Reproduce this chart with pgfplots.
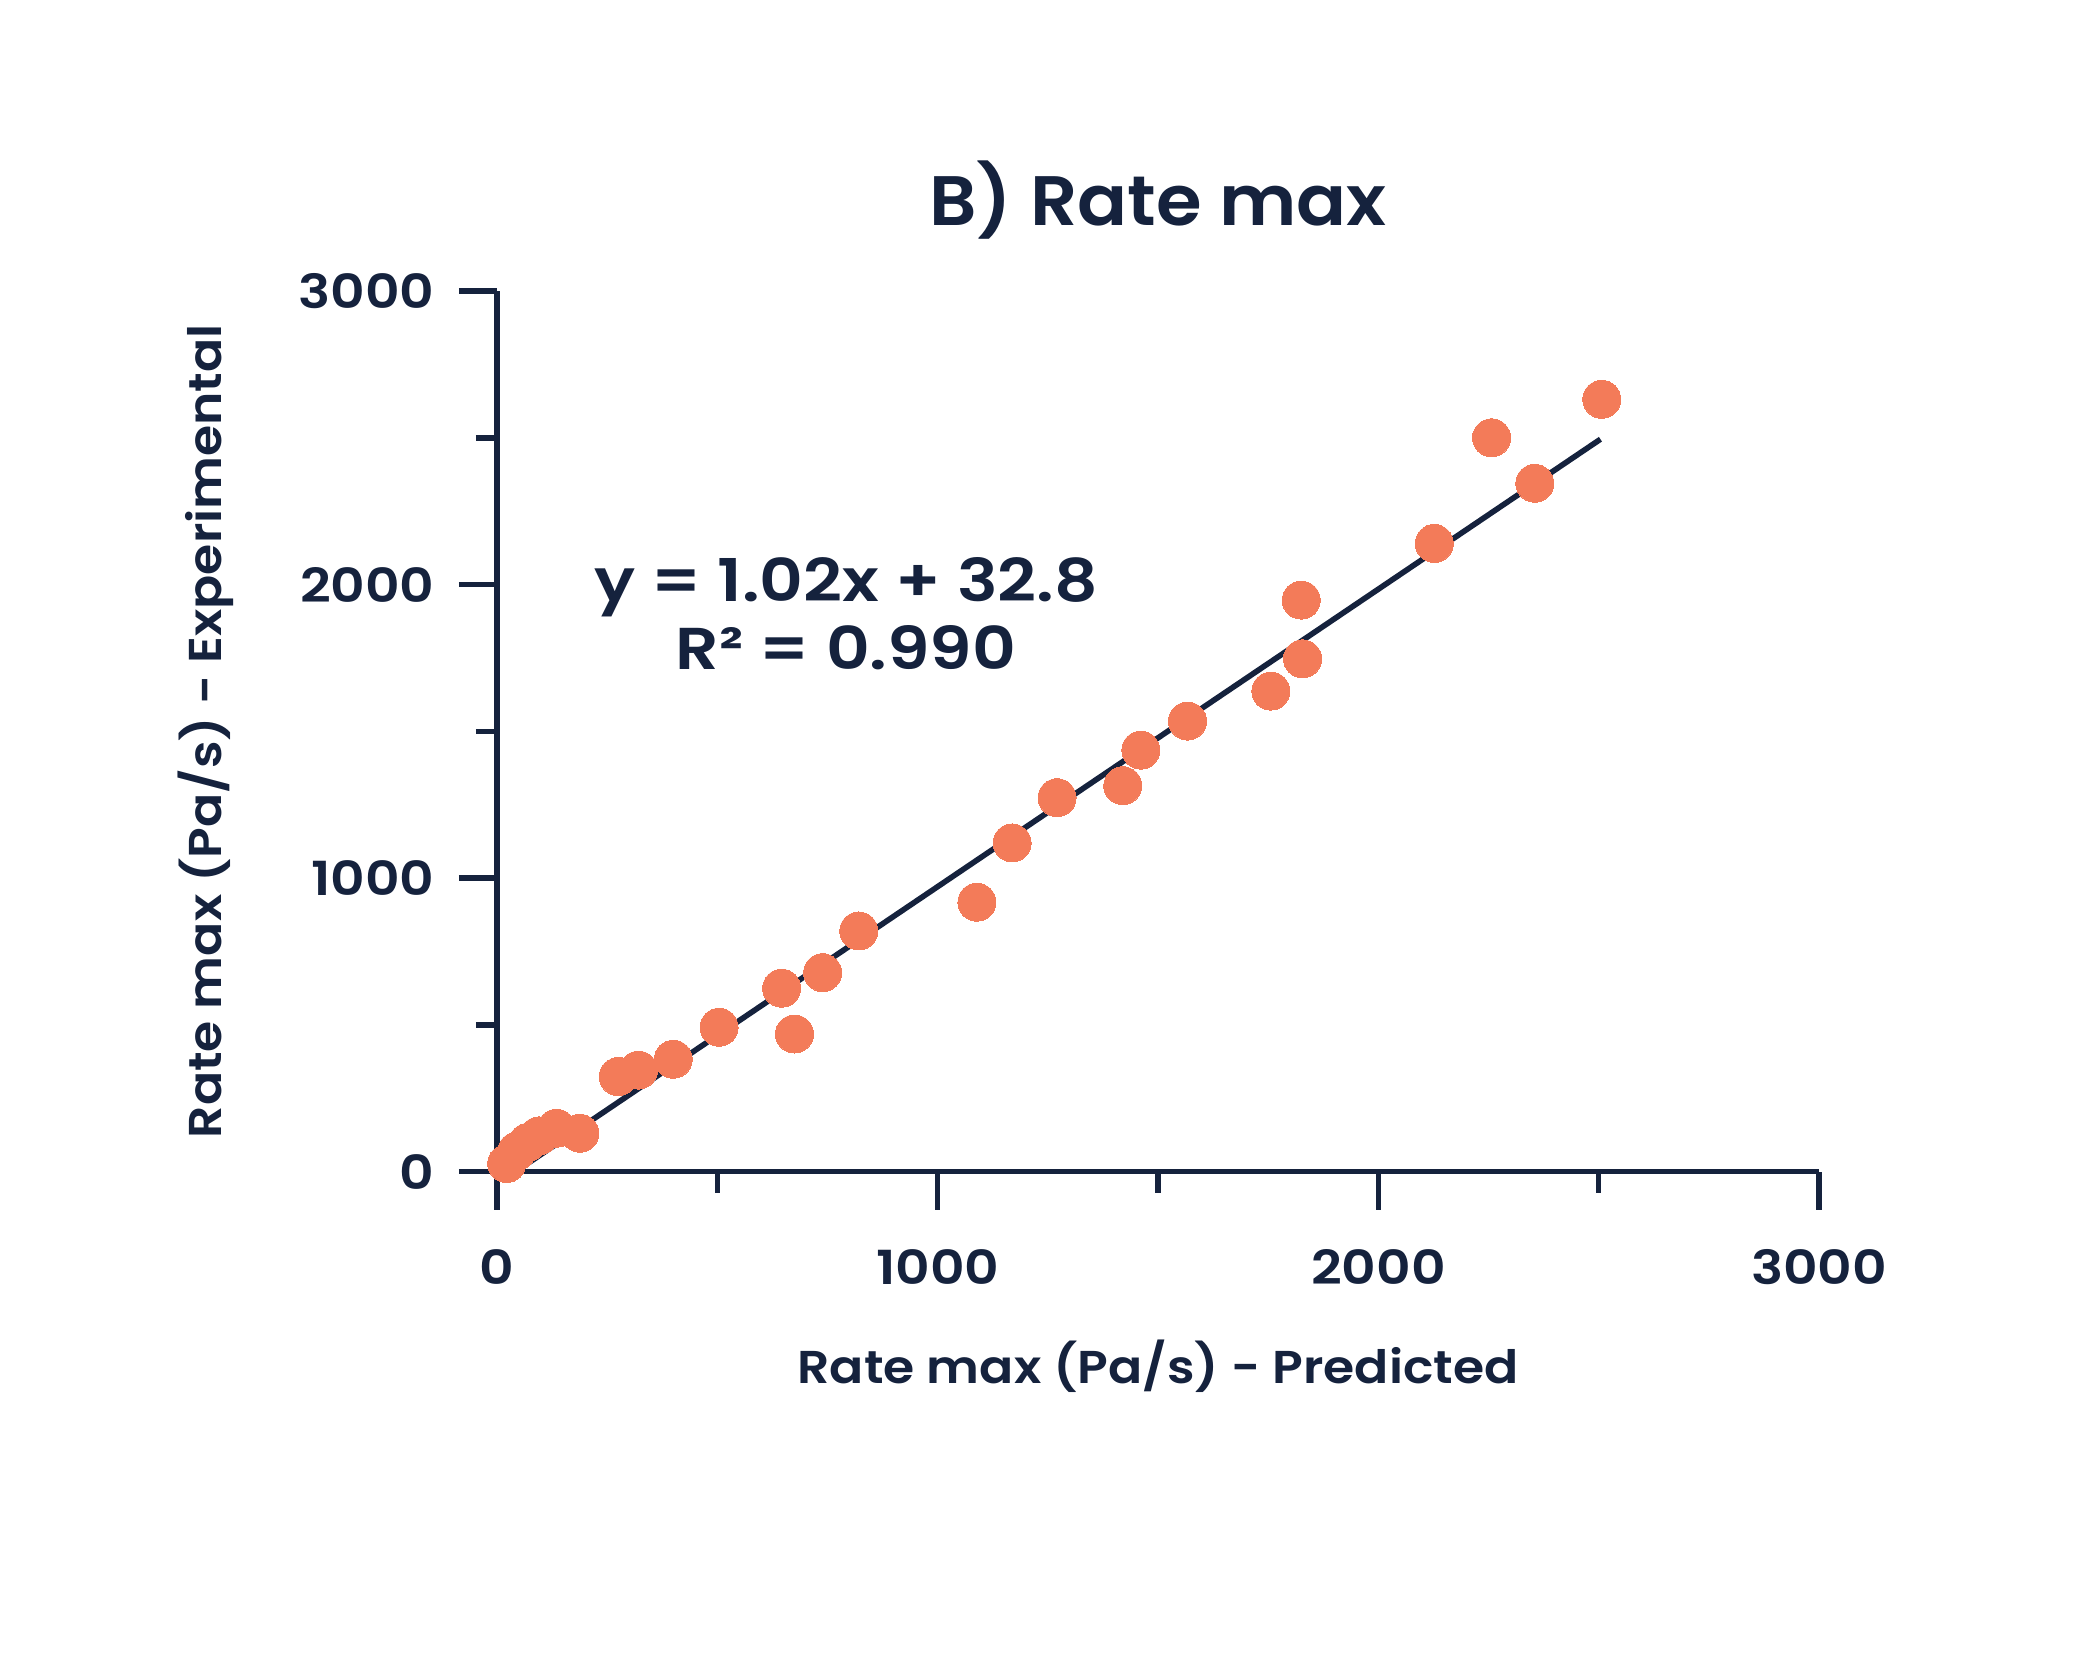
\documentclass[border=0pt]{standalone}
\usepackage{fontspec}
\setmainfont{Poppins}[UprightFont=* Medium, BoldFont=* SemiBold]
\newfontfamily\tickf{Poppins SemiBold}[FakeStretch=1.14]
\newfontfamily\labf{Poppins SemiBold}[FakeStretch=1.097]
\newfontfamily\eqf{Poppins SemiBold}[FakeStretch=1.15]
\newfontfamily\titf{Poppins SemiBold}[FakeStretch=1.055]
\usepackage{pgfplots}
\pgfplotsset{compat=1.18}
\definecolor{navy}{HTML}{15223D}
\definecolor{coral}{HTML}{F37B59}

\pgfplotstableread{
x y
22 28
45 70
70 100
95 122
135 148
188 131
275 324
321 346
400 383
504 492
646 625
675 469
739 678
821 820
1089 918
1169 1120
1271 1274
1420 1315
1461 1436
1567 1535
1756 1637
1828 1747
1825 1947
2127 2140
2257 2500
2355 2345
2507 2631
}\datatable

\begin{document}
\begin{tikzpicture}
\path[use as bounding box] (0,0) rectangle (1042pt,834pt);
\begin{axis}[
  at={(248.5pt,248.15pt)}, anchor=south west,
  scale only axis, width=661pt, height=440.35pt,
  xmin=0, xmax=3000, ymin=0, ymax=3000,
  axis lines*=left,
  clip=false,
  axis line style={line width=2.8pt, navy},
  xtick={0,1000,2000,3000}, xticklabels={0,1000,2000,3000},
  ytick={0,1000,2000,3000}, yticklabels={0,1000,2000,3000},
  minor xtick={500,1500,2500}, minor ytick={500,1500,2500},
  tick align=outside,
  major tick length=19pt, minor tick length=10.5pt,
  every tick/.style={line width=2.8pt, navy},
  every minor tick/.style={line width=2.8pt, navy},
  tick label style={font=\tickf\fontsize{23.5}{28}\selectfont, text=navy, inner sep=0pt},
  xticklabel style={anchor=center, yshift=-28.9pt},
  yticklabel style={anchor=east, xshift=-12pt},
  every axis x label/.style={at={(axis description cs:0.5,-0.2403)}, anchor=base, font=\labf\fontsize{23}{28}\selectfont, text=navy},
  every axis y label/.style={at={(axis description cs:-0.2083,0.5)}, rotate=90, anchor=base, font=\labf\fontsize{23}{28}\selectfont, text=navy},
  every axis title/.style={at={(axis description cs:0.5,1.0738)}, anchor=base, font=\titf\fontsize{35}{42}\selectfont, text=navy},
  xlabel={Rate max (Pa/s) - Predicted},
  ylabel={Rate max (Pa/s) - Experimental},
  title={B) Rate max},
]
\addplot[navy, line width=2.8pt] coordinates {(30,-12) (2504,2495)};
\addplot[only marks, mark=*, mark size=9.5pt, color=coral, mark options={fill=coral, draw=coral, line width=0pt}] table[x=x, y=y] {\datatable};
\node[anchor=base, font=\eqf\fontsize{29.5}{35}\selectfont, text=navy] at (axis cs:792,1941.6) {y = 1.02x + 32.8};
\node[anchor=base, font=\eqf\fontsize{29.5}{35}\selectfont, text=navy] at (axis cs:792,1709) {R² = 0.990};
\end{axis}
\end{tikzpicture}
\end{document}
